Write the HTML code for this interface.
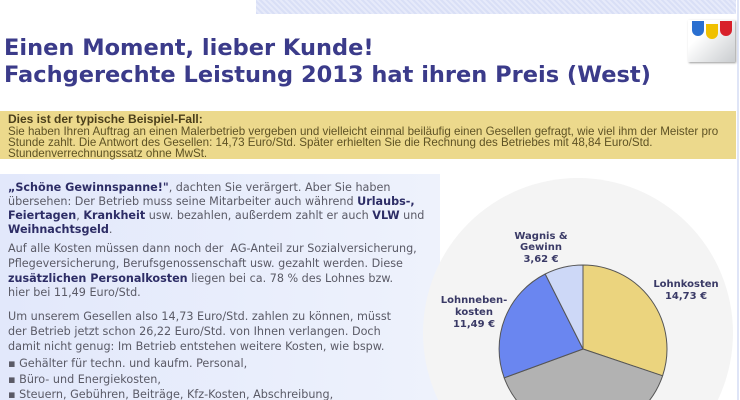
<!DOCTYPE html>
<html><head><meta charset="utf-8"><style>
html,body{margin:0;width:740px;height:400px;overflow:hidden}
body{background:#fff;position:relative;font-family:"DejaVu Sans",Verdana,sans-serif}
.a{position:absolute;white-space:nowrap}
.t{font-family:"DejaVu Sans",sans-serif;font-weight:bold;font-size:22.5px;color:#3b3b8a;left:4px}
.y{font-family:"Liberation Sans",sans-serif;font-size:11.6px;color:#5e5224;left:8px}
.p{font-size:11.2px;color:#5a5a66;left:8px}
.p b{color:#2d2d66}
</style></head><body>
<div class="a" style="left:256px;top:0;width:480px;height:14px;background:repeating-linear-gradient(45deg,#d9dff6 0 2px,#e6eafa 2px 4px)"></div>
<div class="a" style="left:737px;top:0;width:2px;height:400px;background:#dfe5f7"></div>
<div class="a t" style="top:35px">Einen Moment, lieber Kunde!</div>
<div class="a t" style="top:62px">Fachgerechte Leistung 2013 hat ihren Preis (West)</div>
<div class="a" style="left:688px;top:20px;width:47px;height:42px;background:linear-gradient(135deg,#fff 30%,#c9cccf);box-shadow:1px 1px 2px #999"></div>
<div class="a" style="left:692px;top:21px;width:12px;height:15px;background:#2a6fd0;border-radius:0 0 6px 6px"></div>
<div class="a" style="left:706px;top:24px;width:12px;height:15px;background:#f0c000;border-radius:0 0 6px 6px"></div>
<div class="a" style="left:720px;top:21px;width:12px;height:15px;background:#d8202a;border-radius:0 0 6px 6px"></div>
<div class="a" style="left:0;top:111px;width:736px;height:48px;background:#ecd98c"></div>
<div class="a y" style="top:112px;font-size:12px;font-weight:bold;color:#4a3e1a">Dies ist der typische Beispiel-Fall:</div>
<div class="a y" style="top:125px">Sie haben Ihren Auftrag an einen Malerbetrieb vergeben und vielleicht einmal beiläufig einen Gesellen gefragt, wie viel ihm der Meister pro</div>
<div class="a y" style="top:136px">Stunde zahlt. Die Antwort des Gesellen: 14,73 Euro/Std. Später erhielten Sie die Rechnung des Betriebes mit 48,84 Euro/Std.</div>
<div class="a y" style="top:147px">Stundenverrechnungssatz ohne MwSt.</div>
<div class="a" style="left:0;top:174px;width:440px;height:226px;background:linear-gradient(90deg,#e2e8fb,#eef2fc)"></div>
<svg class="a" style="left:0;top:0" width="740" height="400">
<circle cx="578" cy="333" r="155" fill="#f4f4f4"/>
<g stroke="#555" stroke-width="1" stroke-linejoin="round">
<path d="M583,349 L583,265 A84,84 0 0 1 662.6,375.8 Z" fill="#ebd47e"/>
<path d="M583,349 L662.6,375.8 A84,84 0 0 1 504.2,377.8 Z" fill="#b2b2b2"/>
<path d="M583,349 L504.2,377.8 A84,84 0 0 1 545.2,274 Z" fill="#6a86f0"/>
<path d="M583,349 L545.2,274 A84,84 0 0 1 583,265 Z" fill="#cdd8f7"/>
</g>
<g font-family="DejaVu Sans,sans-serif" font-weight="bold" font-size="10" fill="#3a3a66" text-anchor="middle">
<text x="541" y="239">Wagnis &amp;</text><text x="541" y="250">Gewinn</text><text x="541" y="262">3,62 €</text>
<text x="686" y="287">Lohnkosten</text><text x="686" y="299">14,73 €</text>
<text x="474" y="303">Lohnneben-</text><text x="474" y="315">kosten</text><text x="474" y="327">11,49 €</text>
</g></svg>
<div class="a p" style="top:181px"><b>„Schöne Gewinnspanne!"</b>, dachten Sie verärgert. Aber Sie haben</div>
<div class="a p" style="top:195px">übersehen: Der Betrieb muss seine Mitarbeiter auch während <b>Urlaubs-,</b></div>
<div class="a p" style="top:209px"><b>Feiertagen</b>, <b>Krankheit</b> usw. bezahlen, außerdem zahlt er auch <b>VLW</b> und</div>
<div class="a p" style="top:223px"><b>Weihnachtsgeld</b>.</div>
<div class="a p" style="top:242px">Auf alle Kosten müssen dann noch der&nbsp; AG-Anteil zur Sozialversicherung,</div>
<div class="a p" style="top:257px">Pflegeversicherung, Berufsgenossenschaft usw. gezahlt werden. Diese</div>
<div class="a p" style="top:272px"><b>zusätzlichen Personalkosten</b> liegen bei ca. 78 % des Lohnes bzw.</div>
<div class="a p" style="top:286px">hier bei 11,49 Euro/Std.</div>
<div class="a p" style="top:310px">Um unserem Gesellen also 14,73 Euro/Std. zahlen zu können, müsst</div>
<div class="a p" style="top:325px">der Betrieb jetzt schon 26,22 Euro/Std. von Ihnen verlangen. Doch</div>
<div class="a p" style="top:340px">damit nicht genug: Im Betrieb entstehen weitere Kosten, wie bspw.</div>
<div class="a p" style="top:357px">▪ Gehälter für techn. und kaufm. Personal,</div>
<div class="a p" style="top:373px">▪ Büro- und Energiekosten,</div>
<div class="a p" style="top:388px;height:12px;overflow:hidden">▪ Steuern, Gebühren, Beiträge, Kfz-Kosten, Abschreibung,</div>
</body></html>
